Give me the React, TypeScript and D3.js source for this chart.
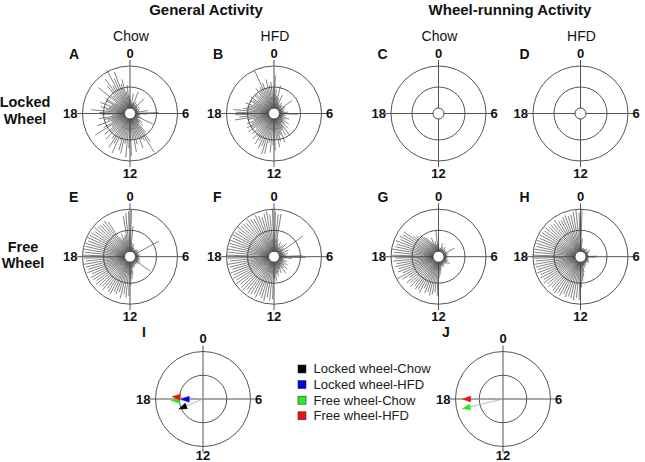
import * as d3 from "d3";

// Activity per 15-min bin (96 bins / day), % of outer ring (50 = inner ring)
const panelA = [
  20, 8, 35, 12, 15, 42, 10, 18, 6, 14, 12, 36, 10, 4, 14, 8, 6, 12, 5, 9, 8, 30, 6, 55,
  28, 12, 7, 10, 5, 15, 48, 8, 10, 22, 14, 30, 18, 45, 70, 96, 60, 55, 75, 48, 62, 80, 50, 88,
  70, 92, 60, 85, 78, 55, 90, 68, 82, 60, 45, 72, 50, 65, 40, 84, 58, 35, 70, 42, 48, 62, 30, 55,
  60, 80, 45, 58, 40, 62, 35, 50, 55, 30, 84, 48, 45, 72, 88, 65, 105, 78, 93, 60, 70, 40, 55, 30,
];
const panelB = [
  78, 45, 30, 55, 25, 15, 35, 12, 10, 20, 8, 15, 12, 6, 40, 18, 8, 14, 5, 10, 12, 6, 20, 8,
  44, 10, 15, 6, 12, 25, 8, 18, 10, 30, 14, 22, 35, 15, 52, 28, 45, 30, 60, 40, 55, 68, 48, 75,
  62, 80, 58, 85, 88, 70, 78, 60, 72, 55, 65, 48, 58, 42, 62, 50, 60, 45, 55, 38, 52, 81, 70, 80,
  78, 84, 62, 55, 48, 60, 40, 52, 45, 55, 38, 50, 52, 40, 60, 48, 58, 100, 65, 50, 70, 55, 62, 48,
];
const panelC: number[] = [];
const panelD: number[] = [];
const panelE = [
  98, 60, 20, 12, 18, 8, 10, 6, 5, 8, 4, 10, 6, 12, 8, 5, 65, 10, 6, 8, 5, 12, 7, 4,
  8, 5, 10, 6, 12, 6, 8, 15, 10, 46, 8, 12, 6, 10, 5, 8, 12, 8, 15, 10, 15, 30, 40, 55,
  80, 85, 78, 88, 75, 82, 78, 88, 85, 80, 90, 84, 88, 92, 85, 90, 92, 86, 95, 90, 94, 98, 92, 96,
  98, 95, 100, 96, 97, 93, 98, 95, 95, 90, 96, 92, 90, 88, 92, 85, 40, 32, 45, 35, 40, 85, 92, 95,
];
const panelF = [
  95, 88, 90, 30, 20, 12, 25, 10, 15, 22, 8, 30, 12, 18, 72, 10, 8, 25, 12, 6, 20, 10, 15, 55,
  62, 30, 12, 8, 10, 20, 8, 14, 25, 10, 18, 30, 12, 22, 35, 15, 20, 30, 18, 25, 35, 28, 45, 40,
  88, 92, 85, 95, 90, 86, 94, 88, 92, 95, 88, 96, 94, 90, 97, 92, 96, 93, 98, 90, 95, 98, 92, 97,
  100, 96, 98, 94, 97, 100, 95, 98, 96, 92, 98, 94, 95, 90, 97, 92, 88, 95, 90, 85, 92, 96, 88, 100,
];
const panelG = [
  10, 6, 5, 8, 20, 6, 12, 4, 8, 15, 5, 10, 6, 10, 4, 8, 30, 8, 5, 12, 4, 8, 6, 5,
  10, 5, 8, 6, 5, 12, 6, 10, 19, 8, 14, 6, 10, 5, 8, 12, 6, 14, 8, 10, 15, 22, 30, 38,
  80, 72, 78, 82, 75, 80, 70, 84, 78, 82, 76, 85, 78, 85, 72, 88, 98, 80, 90, 86, 92, 88, 95, 90,
  98, 94, 100, 92, 90, 95, 86, 92, 86, 88, 64, 60, 55, 52, 45, 38, 30, 22, 35, 18, 25, 15, 50, 20,
];
const panelH = [
  100, 30, 8, 5, 6, 10, 4, 8, 5, 8, 12, 4, 6, 4, 15, 8, 10, 5, 6, 4, 4, 6, 5, 26,
  22, 6, 4, 5, 8, 4, 6, 10, 5, 12, 6, 4, 8, 6, 10, 5, 12, 8, 15, 10, 25, 35, 45, 60,
  90, 85, 92, 88, 86, 90, 84, 92, 88, 94, 90, 86, 92, 88, 95, 90, 95, 90, 97, 93, 96, 98, 94, 97,
  100, 97, 98, 95, 96, 99, 94, 97, 95, 92, 97, 90, 92, 88, 94, 86, 85, 90, 92, 88, 90, 95, 98, 92,
];

// Mean vectors: phase (h) and length (fraction of outer ring)
const groups = ["Locked wheel-Chow", "Locked wheel-HFD", "Free wheel-Chow", "Free wheel-HFD"];
const groupColors = ["#000000", "#0000ee", "#22ee22", "#ee1111"];
const meanHourI = [16.5, 17.95, 17.8, 18.3];
const meanLenI = [0.55, 0.46, 0.67, 0.65];
const meanGroupsJ = [3, 2];
const meanHourJ = [18.0, 17.1];
const meanLenJ = [0.85, 0.88];

const hourTicks = [0, 6, 12, 18];

const R = 47.5;
const HOLE = 5.5;
const FONT = "Liberation Sans, Arial, sans-serif";

const angle = d3.scaleLinear().domain([0, 24]).range([0, 2 * Math.PI]);
const radius = d3.scaleLinear().domain([0, 100]).range([HOLE, R]);
const vecRadius = d3.scaleLinear().domain([0, 1]).range([0, R]);

function Grid({ cx, cy, inner, bottom }: { cx: number; cy: number; inner: number; bottom: number }) {
  const ext = R + 6;
  const common = { fontFamily: FONT, fontWeight: 700, fontSize: 13, fill: "#111" };
  return (
    <g transform={`translate(${cx},${cy})`}>
      <line x1={-ext} x2={ext} y1={0} y2={0} stroke="#555" strokeWidth={1} />
      <line x1={0} x2={0} y1={-ext} y2={ext} stroke="#555" strokeWidth={1} />
      <circle r={R} fill="none" stroke="#555" strokeWidth={1} />
      <circle r={inner} fill="none" stroke="#555" strokeWidth={1} />
      {hourTicks.map((h) => {
        if (h === 0) return <text key={h} x={0} y={-56} textAnchor="middle" {...common}>0</text>;
        if (h === 6) return <text key={h} x={R + 4.5} y={4.5} textAnchor="start" {...common}>6</text>;
        if (h === 12) return <text key={h} x={0} y={bottom} textAnchor="middle" {...common}>12</text>;
        return <text key={h} x={-R - 5} y={4.5} textAnchor="end" {...common}>18</text>;
      })}
    </g>
  );
}

function Rose({ cx, cy, data, letter }: { cx: number; cy: number; data: number[]; letter: string }) {
  const n = data.length;
  return (
    <g>
      <Grid cx={cx} cy={cy} inner={radius(50)} bottom={64} />
      <g transform={`translate(${cx},${cy})`}>
        {data.map((v, i) => {
          const a = angle(((i + 0.5) * 24) / n);
          const [x0, y0] = d3.pointRadial(a, HOLE);
          const [x1, y1] = d3.pointRadial(a, radius(v));
          return <line key={i} x1={x0} y1={y0} x2={x1} y2={y1} stroke="#444" strokeWidth={0.9} strokeOpacity={0.75} />;
        })}
        <circle r={HOLE} fill="#fff" stroke="#444" strokeWidth={1} />
      </g>
      <text x={cx - 61} y={cy - 54.5} fontFamily={FONT} fontWeight={700} fontSize={14} fill="#111">{letter}</text>
    </g>
  );
}

function Vectors({ cx, cy, idx, hours, lens, letter }: { cx: number; cy: number; idx: number[]; hours: number[]; lens: number[]; letter: string }) {
  return (
    <g>
      <Grid cx={cx} cy={cy} inner={vecRadius(0.5)} bottom={60.5} />
      <g transform={`translate(${cx},${cy})`}>
        {idx.map((g, k) => {
          const a = angle(hours[k]);
          const [tx, ty] = d3.pointRadial(a, vecRadius(lens[k]));
          return <line key={"l" + k} x1={0} y1={0} x2={tx} y2={ty} stroke="#aaa" strokeWidth={0.8} />;
        })}
        {idx.map((g, k) => {
          const a = angle(hours[k]);
          const r = vecRadius(lens[k]);
          const [tx, ty] = d3.pointRadial(a, r);
          const [bx, by] = d3.pointRadial(a, r - 8);
          const px = Math.cos(a) * 3;
          const py = Math.sin(a) * 3;
          const pts = `${tx},${ty} ${bx + px},${by + py} ${bx - px},${by - py}`;
          return <polygon key={"p" + k} points={pts} fill={groupColors[g]} stroke={groupColors[g]} strokeWidth={0.5} />;
        })}
      </g>
      <text x={cx - 61} y={cy - 62} fontFamily={FONT} fontWeight={700} fontSize={14} fill="#111">{letter}</text>
    </g>
  );
}

export default function App() {
  const colX = [130, 274, 438.5, 580.5];
  const rowY = [113.5, 256.7];
  const bold = { fontFamily: FONT, fontWeight: 700, fill: "#111" };
  return (
    <svg width={645} height={462} style={{ position: "absolute", left: 0, top: 0, background: "#fff" }}>
      <text x={206} y={14.5} textAnchor="middle" fontSize={15} {...bold}>General Activity</text>
      <text x={510} y={14.5} textAnchor="middle" fontSize={15} {...bold}>Wheel-running Activity</text>
      {["Chow", "HFD", "Chow", "HFD"].map((t, i) => (
        <text key={i} x={colX[i] + 1} y={40.5} textAnchor="middle" fontFamily={FONT} fontSize={14} fill="#111">{t}</text>
      ))}
      <text x={25} y={107.3} textAnchor="middle" fontSize={14.5} {...bold}>Locked</text>
      <text x={25} y={124} textAnchor="middle" fontSize={14.5} {...bold}>Wheel</text>
      <text x={23} y={251.7} textAnchor="middle" fontSize={14.5} {...bold}>Free</text>
      <text x={23} y={268.3} textAnchor="middle" fontSize={14.5} {...bold}>Wheel</text>

      <Rose cx={colX[0]} cy={rowY[0]} data={panelA} letter="A" />
      <Rose cx={colX[1]} cy={rowY[0]} data={panelB} letter="B" />
      <Rose cx={colX[2]} cy={rowY[0]} data={panelC} letter="C" />
      <Rose cx={colX[3]} cy={rowY[0]} data={panelD} letter="D" />
      <Rose cx={colX[0]} cy={rowY[1]} data={panelE} letter="E" />
      <Rose cx={colX[1]} cy={rowY[1]} data={panelF} letter="F" />
      <Rose cx={colX[2]} cy={rowY[1]} data={panelG} letter="G" />
      <Rose cx={colX[3]} cy={rowY[1]} data={panelH} letter="H" />

      <Vectors cx={203} cy={399} idx={[0, 1, 2, 3]} hours={meanHourI} lens={meanLenI} letter="I" />
      <Vectors cx={503} cy={399} idx={meanGroupsJ} hours={meanHourJ} lens={meanLenJ} letter="J" />

      {groups.map((g, i) => (
        <g key={g}>
          <rect x={298} y={365 + i * 15.6} width={8} height={8} fill={groupColors[i]} stroke="#333" strokeWidth={0.6} />
          <text x={313.5} y={373.3 + i * 15.6} fontFamily={FONT} fontSize={13} fill="#222">{g}</text>
        </g>
      ))}
    </svg>
  );
}
